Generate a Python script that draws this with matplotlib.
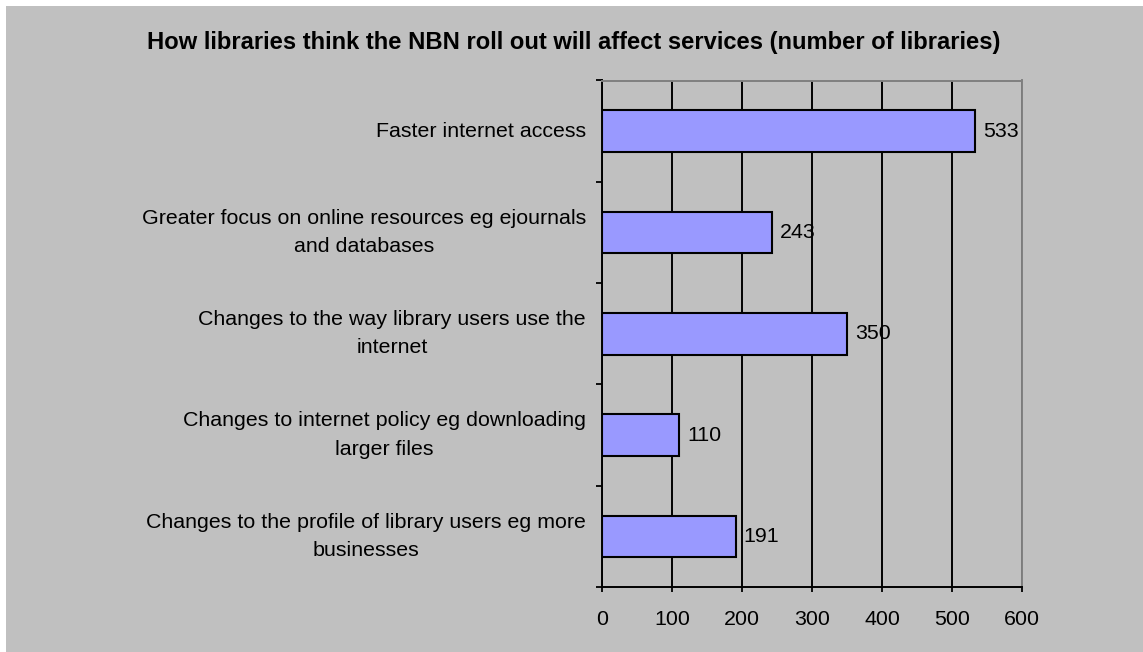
import matplotlib
matplotlib.use("Agg")
import matplotlib.pyplot as plt
from matplotlib.patches import Rectangle
import numpy as np

plt.rcParams['font.family'] = ['Liberation Sans', 'DejaVu Sans']

# data
categories = [
    "Faster internet access",
    "Greater focus on online resources eg ejournals\nand databases",
    "Changes to the way library users use the\ninternet",
    "Changes to internet policy eg downloading\nlarger files",
    "Changes to the profile of library users eg more\nbusinesses",
]
counts = [533, 243, 350, 110, 191]
xticks = [0, 100, 200, 300, 400, 500, 600]
title = "How libraries think the NBN roll out will affect services (number of libraries)"

bg     = "#C0C0C0"
barcol = "#9999FF"
fs     = 15.4

W, H = 1143, 652
fig = plt.figure(figsize = (W / 100, H / 100), dpi = 100)
fig.patch.set_facecolor("white")
fig.patches.append(Rectangle((6 / W, 0), 1 - 6 / W, 1 - 6 / H, transform = fig.transFigure,
                             facecolor = bg, edgecolor = "none", zorder = -5))

left, right = 602 / W, 1022 / W
top, bottom = 1 - 80.5 / H, 1 - 587 / H
ax = fig.add_axes([left, bottom, right - left, top - bottom])
ax.set_facecolor(bg)

ypos = np.arange(len(categories))
ax.barh(ypos, counts, height = 0.41, color = barcol, edgecolor = "black", linewidth = 1.5, zorder = 3)

ax.set_xlim(0, 600)
ax.set_ylim(len(categories) - 0.5, -0.5)
ax.set_xticks(xticks)
ax.set_xticklabels([str(t) for t in xticks], fontsize = fs)
ax.set_yticks(np.arange(len(categories) + 1) - 0.5)
ax.set_yticklabels([])
ax.tick_params(axis = 'x', direction = 'out', length = 3.6, width = 1.3, pad = 13, colors = 'black')
ax.tick_params(axis = 'y', direction = 'out', length = 4.3, width = 1.3)
ax.grid(axis = 'x', color = 'black', linewidth = 1.4, zorder = 1)
ax.set_axisbelow(True)

for side in ["left", "bottom"]:
    ax.spines[side].set_color("black")
    ax.spines[side].set_linewidth(1.4)
for side in ["top", "right"]:
    ax.spines[side].set_color("#808080")
    ax.spines[side].set_linewidth(1.4)

for i, (cat, v) in enumerate(zip(categories, counts)):
    ax.annotate(cat, xy = (0, i), xycoords = ('axes fraction', 'data'),
                xytext = (-16, 0), textcoords = 'offset pixels',
                ha = 'right', va = 'center', multialignment = 'center',
                linespacing = 1.62, fontsize = fs)
    ax.annotate(str(v), xy = (v, i), xytext = (8, 0), textcoords = 'offset pixels',
                ha = 'left', va = 'center', fontsize = fs, zorder = 5)

fig.text(574 / W, 1 - 42 / H, title, ha = 'center', va = 'center',
         fontsize = 17.1, fontweight = 'bold')

fig.savefig("out.png", dpi = 100)
